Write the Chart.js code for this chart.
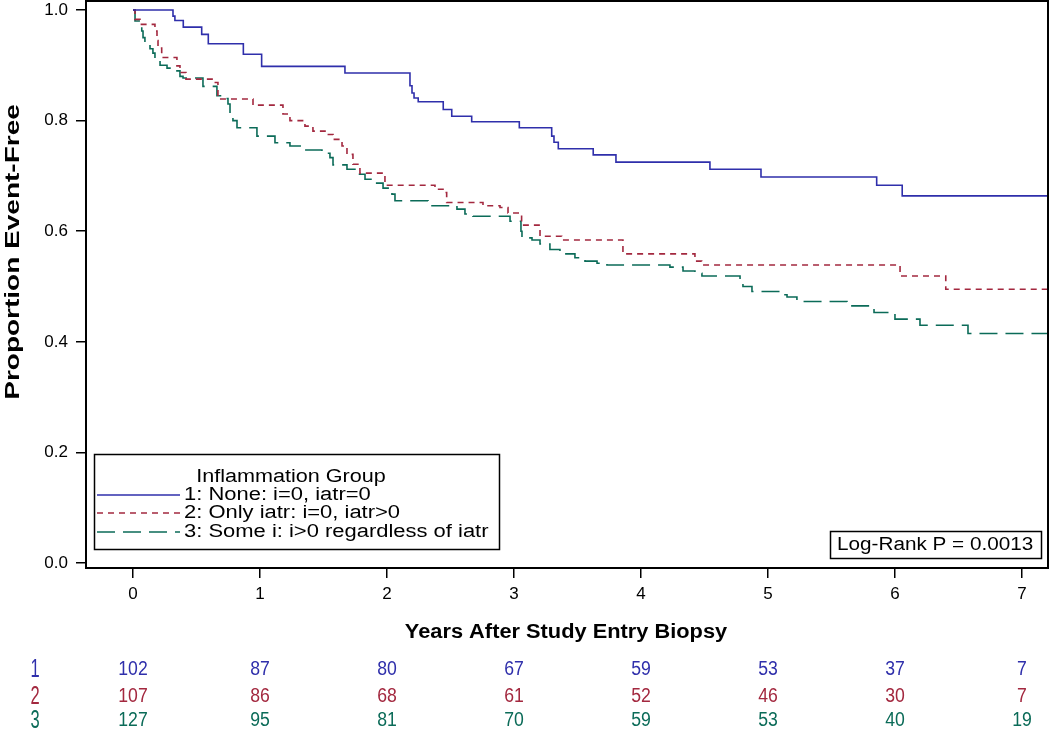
<!DOCTYPE html>
<html>
<head>
<meta charset="utf-8">
<script src="https://cdn.jsdelivr.net/npm/chart.js@4/dist/chart.umd.min.js"></script>
<style>
    html, body { margin: 0; padding: 0; background: #fff; }
    #wrap { width: 1050px; height: 735px; position: relative; }
</style>
</head>
<body>
<div id="wrap"><canvas id="km_chart"></canvas></div>
<script>
'use strict';

// Kaplan-Meier steps: time (years) of each drop and the proportion after it
const noneTimes = [0, 0.315, 0.33, 0.396, 0.541, 0.593, 0.869, 1.013, 1.669, 2.181, 2.197, 2.213, 2.246, 2.443, 2.51, 2.667, 3.042, 3.297, 3.315, 3.349, 3.624, 3.803, 4.543, 4.945, 5.856, 6.057, 7.21];
const noneSurv = [1.0, 0.989, 0.981, 0.969, 0.956, 0.939, 0.920, 0.898, 0.886, 0.863, 0.850, 0.841, 0.834, 0.820, 0.808, 0.798, 0.787, 0.772, 0.761, 0.749, 0.738, 0.725, 0.712, 0.698, 0.683, 0.664, 0.664];

const iatrTimes = [0, 0.016, 0.055, 0.173, 0.189, 0.197, 0.226, 0.346, 0.37, 0.417, 0.63, 0.669, 0.945, 1.181, 1.236, 1.354, 1.417, 1.512, 1.575, 1.646, 1.685, 1.732, 1.787, 1.984, 2.378, 2.457, 2.47, 2.756, 2.89, 2.953, 3.06, 3.205, 3.376, 3.858, 4.425, 4.478, 6.04, 6.40, 7.21];
const iatrSurv = [1.0, 0.983, 0.974, 0.962, 0.945, 0.931, 0.914, 0.899, 0.887, 0.875, 0.869, 0.839, 0.828, 0.812, 0.80, 0.79, 0.781, 0.775, 0.766, 0.754, 0.739, 0.721, 0.705, 0.683, 0.676, 0.67, 0.652, 0.646, 0.643, 0.633, 0.611, 0.591, 0.584, 0.559, 0.546, 0.539, 0.519, 0.495, 0.495];

const someTimes = [0, 0.016, 0.069, 0.079, 0.094, 0.134, 0.157, 0.173, 0.213, 0.268, 0.291, 0.37, 0.394, 0.551, 0.661, 0.709, 0.748, 0.764, 0.787, 0.819, 0.976, 1.118, 1.236, 1.354, 1.488, 1.551, 1.575, 1.685, 1.772, 1.827, 1.882, 1.969, 2.039, 2.063, 2.323, 2.551, 2.614, 2.677, 2.969, 3.055, 3.063, 3.142, 3.205, 3.283, 3.362, 3.48, 3.559, 3.654, 3.732, 4.228, 4.331, 4.425, 4.48, 4.78, 4.803, 4.874, 5.11, 5.15, 5.228, 5.622, 5.835, 6.0, 6.197, 6.575, 7.21];
const someSurv = [1.0, 0.98, 0.962, 0.95, 0.94, 0.93, 0.922, 0.908, 0.90, 0.895, 0.89, 0.88, 0.877, 0.862, 0.845, 0.84, 0.83, 0.81, 0.80, 0.787, 0.772, 0.76, 0.754, 0.747, 0.741, 0.733, 0.72, 0.712, 0.703, 0.694, 0.687, 0.678, 0.667, 0.655, 0.646, 0.64, 0.631, 0.627, 0.618, 0.60, 0.588, 0.584, 0.577, 0.567, 0.559, 0.552, 0.546, 0.542, 0.539, 0.535, 0.528, 0.524, 0.519, 0.507, 0.50, 0.491, 0.485, 0.481, 0.473, 0.465, 0.453, 0.441, 0.43, 0.415, 0.415];

const groupLabels = ['1: None: i=0, iatr=0', '2: Only iatr: i=0, iatr>0', '3: Some i: i>0 regardless of iatr'];

// number at risk
const riskTimes = [0, 1, 2, 3, 4, 5, 6, 7];
const risk1 = [102, 87, 80, 67, 59, 53, 37, 7];
const risk2 = [107, 86, 68, 61, 52, 46, 30, 7];
const risk3 = [127, 95, 81, 70, 59, 53, 40, 19];

const xTicks = [0, 1, 2, 3, 4, 5, 6, 7];
const yTicks = [0.0, 0.2, 0.4, 0.6, 0.8, 1.0];

const blue = '#2f2fab';
const red = '#a3283f';
const teal = '#0b6b58';

function toPoints(times, surv) {
    return times.map((t, i) => ({x: t, y: surv[i]}));
}

const FONT = "'Liberation Sans', Arial, sans-serif";
Chart.defaults.font.family = FONT;
Chart.defaults.color = '#000';

// text squeezed or stretched sideways, like the SAS output
function stretchText(ctx, text, x, y, sx, sy) {
    ctx.save();
    ctx.translate(x, y);
    ctx.scale(sx, sy);
    ctx.fillText(text, 0, 0);
    ctx.restore();
}

const annotate = {
    id: 'annotate',
    afterDraw(chart) {
        const {ctx, chartArea} = chart;
        const xs = chart.scales.x;
        const area = chartArea;
        ctx.save();

        // frame
        ctx.strokeStyle = '#000';
        ctx.lineWidth = 2;
        ctx.setLineDash([]);
        ctx.strokeRect(area.left, area.top, area.right - area.left, area.bottom - area.top);

        // legend box
        ctx.lineWidth = 1.5;
        ctx.strokeRect(94.5, 454.5, 405, 95);
        ctx.fillStyle = '#000';
        ctx.font = '18px ' + FONT;
        ctx.textBaseline = 'middle';
        ctx.textAlign = 'center';
        stretchText(ctx, 'Inflammation Group', 291, 477, 1.2, 1);
        ctx.textAlign = 'left';
        const rows = [495, 513, 532];
        chart.data.datasets.forEach((ds, i) => {
            ctx.strokeStyle = ds.borderColor;
            ctx.lineWidth = 1.5;
            ctx.setLineDash(ds.borderDash || []);
            ctx.beginPath();
            ctx.moveTo(97, rows[i]);
            ctx.lineTo(180, rows[i]);
            ctx.stroke();
            stretchText(ctx, groupLabels[i], 184, rows[i], 1.22, 1);
        });
        ctx.setLineDash([]);

        // log-rank box
        ctx.strokeStyle = '#000';
        ctx.lineWidth = 1.5;
        ctx.strokeRect(830.5, 531.5, 211, 27);
        stretchText(ctx, 'Log-Rank P = 0.0013', 837, 545, 1.15, 1);

        // axis titles
        ctx.font = 'bold 20px ' + FONT;
        ctx.textAlign = 'center';
        stretchText(ctx, 'Years After Study Entry Biopsy', 566, 632, 1.09, 1);
        ctx.save();
        ctx.translate(13, 252);
        ctx.rotate(-Math.PI / 2);
        stretchText(ctx, 'Proportion Event-Free', 0, 0, 1.4, 1);
        ctx.restore();

        // number at risk table
        const risks = [risk1, risk2, risk3];
        const colors = [blue, red, teal];
        const rowY = [670, 697, 721];
        risks.forEach((r, i) => {
            ctx.fillStyle = colors[i];
            ctx.font = '22px ' + FONT;
            stretchText(ctx, String(i + 1), 35, rowY[i], 0.75, 1.15);
            ctx.font = '18px ' + FONT;
            riskTimes.forEach((t, j) => {
                stretchText(ctx, String(r[j]), xs.getPixelForValue(t), rowY[i], 0.98, 1.08);
            });
        });
        ctx.restore();
    }
};

new Chart(document.querySelector('#km_chart'), {
    type: 'line',
    data: {
        datasets: [{
            label: groupLabels[0],
            data: toPoints(noneTimes, noneSurv),
            borderColor: blue,
            borderWidth: 1.6,
            stepped: true,
            pointRadius: 0,
        },
        {
            label: groupLabels[1],
            data: toPoints(iatrTimes, iatrSurv),
            borderColor: red,
            borderWidth: 1.6,
            borderDash: [6, 5],
            stepped: true,
            pointRadius: 0,
        },
        {
            label: groupLabels[2],
            data: toPoints(someTimes, someSurv),
            borderColor: teal,
            borderWidth: 1.6,
            borderDash: [18, 8],
            stepped: true,
            pointRadius: 0,
        }]
    },
    options: {
        responsive: true,
        maintainAspectRatio: false,
        animation: false,
        devicePixelRatio: 1,
        layout: {padding: {left: 0, top: 1, right: 2, bottom: 0}},
        plugins: {
            legend: {display: false},
            tooltip: {enabled: false},
        },
        scales: {
            x: {
                type: 'linear',
                min: -0.37,
                max: 7.205,
                afterBuildTicks: (scale) => { scale.ticks = xTicks.map((v) => ({value: v})); },
                afterFit: (scale) => {
                    scale.height = 167;
                    scale.paddingLeft = 0;
                    scale.paddingRight = 0;
                },
                grid: {drawOnChartArea: false, tickLength: 10, color: '#000', lineWidth: 1.5},
                border: {color: '#000', width: 2},
                ticks: {font: {size: 17}, padding: 6, maxRotation: 0, color: '#000'},
            },
            y: {
                type: 'linear',
                min: -0.009,
                max: 1.0163,
                afterBuildTicks: (scale) => { scale.ticks = yTicks.map((v) => ({value: v})); },
                afterFit: (scale) => {
                    scale.width = 86;
                    scale.paddingTop = 0;
                    scale.paddingBottom = 0;
                },
                grid: {drawOnChartArea: false, tickLength: 10, color: '#000', lineWidth: 1.5},
                border: {color: '#000', width: 2},
                ticks: {font: {size: 17}, padding: 8, color: '#000', callback: (v) => v.toFixed(1)},
            }
        }
    },
    plugins: [annotate]
});
</script>
</body>
</html>
